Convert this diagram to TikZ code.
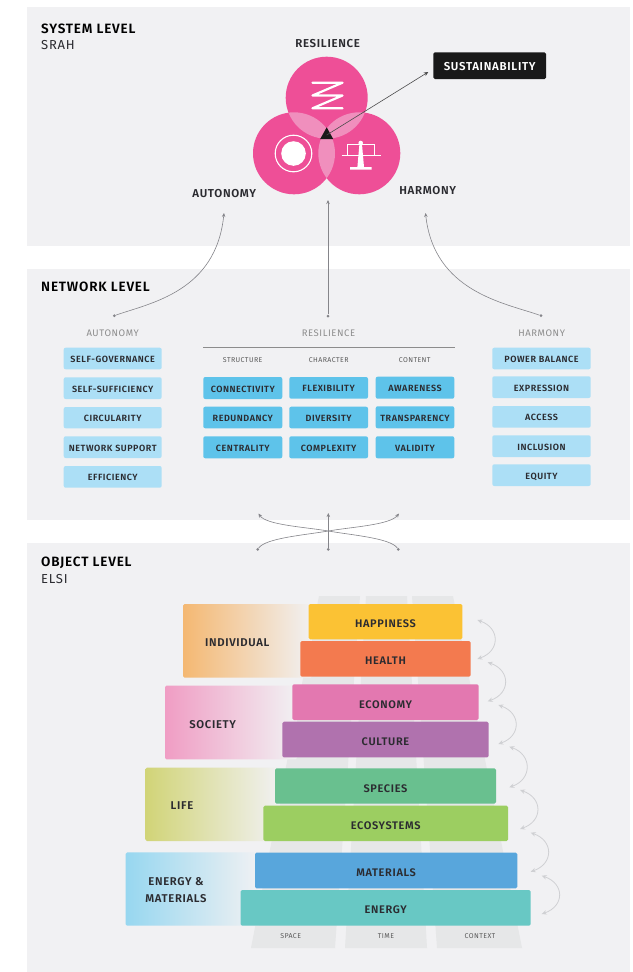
\documentclass[tikz,border=0pt]{standalone}
\usepackage{fontspec}
\setmainfont{Fira Sans}[LetterSpace=6,BoldFont={Fira Sans SemiBold}]
\usetikzlibrary{arrows.meta}
\definecolor{panel}{HTML}{F1F1F3}
\definecolor{ink}{HTML}{2B2B30}
\definecolor{pinkc}{HTML}{EE4F97}
\definecolor{lenspink}{HTML}{F08FBD}
\definecolor{lightb}{HTML}{ACDFF6}
\definecolor{darkb}{HTML}{5EC3EA}
\definecolor{columng}{HTML}{E6E7E8}
\definecolor{wirec}{HTML}{85858A}
\definecolor{loopc}{HTML}{CFD0D3}
\tikzset{
  x=1pt,y=-1pt,
  panelbox/.style={fill=panel,draw=none},
  header/.style={anchor=west,font=\fontsize{13.5}{15}\selectfont\bfseries,text=black,inner sep=0},
  subheader/.style={anchor=west,font=\fontsize{13}{15}\selectfont,text=ink,inner sep=0},
  pillar/.style={font=\fontsize{11.5}{13}\selectfont\bfseries,text=ink,inner sep=0},
  collabel/.style={font=\fontsize{9.5}{11}\selectfont,text=black!45,inner sep=0},
  sublabel/.style={font=\fontsize{7}{8}\selectfont,text=black!65,inner sep=0},
  chip/.style={rectangle,rounded corners=2pt,font=\fontsize{9}{10}\selectfont\bfseries,text=ink,align=center,inner sep=0,text height=8pt,text depth=0pt},
  lightchip/.style={chip,fill=lightb},
  darkchip/.style={chip,fill=darkb},
  layerbox/.style={rectangle,rounded corners=1.5pt,font=\fontsize{11}{12}\selectfont\bfseries,text=ink,inner sep=0,text height=12pt,text depth=0pt},
  grouplabel/.style={font=\fontsize{11.3}{17.4}\selectfont\bfseries,text=ink,align=center,inner sep=0},
  wire/.style={draw=wirec,line width=.6pt,-{Stealth[length=4pt,width=3.5pt]}},
  wiredot/.style={fill=wirec,draw=none,circle,minimum size=3pt,inner sep=0},
  loopar/.style={draw=loopc,line width=.8pt,{Stealth[length=5pt,width=4.5pt]}-{Stealth[length=5pt,width=4.5pt]}},
}
\newcommand{\chipbox}[7]{\pgfmathsetmacro\chipw{#4-#3}\pgfmathsetmacro\chiph{#6-#5}\node[#1,minimum width=\chipw pt,minimum height=\chiph pt] (#2) at ({(#3+#4)/2},{(#5+#6)/2}) {#7};}
\newcommand{\layer}[7]{\definecolor{tmpc}{HTML}{#2}\pgfmathsetmacro\chipw{#4-#3}\pgfmathsetmacro\chiph{#6-#5}\node[layerbox,fill=tmpc,minimum width=\chipw pt,minimum height=\chiph pt] (#1) at ({(#3+#4)/2},{(#5+#6)/2}) {#7};}
\newcommand{\group}[5]{\definecolor{tmpc}{HTML}{#1}\shade[left color=tmpc,right color=panel,rounded corners=1.5pt] (#2,#4) rectangle (#3,#5);}
\newcommand{\looparrow}[4]{\coordinate (#1a) at (#2,#3); \coordinate (#1b) at (#2,#4); \draw[loopar] (#1a) .. controls ({#2+23},{#3-8}) and ({#2+23},{#4+8}) .. (#1b);}
\begin{document}
\begin{tikzpicture}
\useasboundingbox (0,0) rectangle (632,972);
\fill[white] (0,0) rectangle (632,972);
\fill[panelbox] (27,7) rectangle (630,246);
\fill[panelbox] (27,269) rectangle (630,520);
\fill[panelbox] (27,543) rectangle (630,972);
% headers
\node[header] (h1) at (41,29) {SYSTEM LEVEL};
\node[subheader] (h1b) at (41,45) {SRAH};
\node[header] (h2) at (41,287) {NETWORK LEVEL};
\node[header] (h3) at (41,563) {OBJECT LEVEL};
\node[subheader] (h3b) at (41,579) {ELSI};
% venn
\coordinate (ct) at (326.7,97.7);
\coordinate (cl) at (294,153.3);
\coordinate (cr) at (359.3,153.3);
\fill[pinkc] (ct) circle (41) (cl) circle (41) (cr) circle (41);
\begin{scope}\clip (ct) circle (41); \fill[lenspink] (cl) circle (41) (cr) circle (41); \end{scope}
\begin{scope}\clip (cl) circle (41); \fill[lenspink] (cr) circle (41); \end{scope}
% icons
\draw[white,line width=2.2pt,line cap=round,line join=round] (312.5,82.7)--(342.5,82.7)--(312.5,95.5)--(342.5,95.5)--(312.5,108.3)--(342.5,108.3);
\fill[white] (293.5,153.5) circle (12.3);
\draw[white,line width=1.1pt] (293.5,153.5) circle (18.3);
\fill[white] (359.7,141) -- (361.7,141) -- (364,167) -- (371.7,167) -- (371.7,169.5) -- (350,169.5) -- (350,167) -- (357.4,167) -- cycle;
\draw[white,line width=1pt] (341.7,155) -- (380.7,155);
\draw[white,line width=1pt] (347.5,155) -- (347.5,144) -- (374.5,144) -- (374.5,155);
\fill[white] (360.7,143) circle (2.3);
% labels
\node[pillar] (lres) at (327.7,43.7) {RESILIENCE};
\node[pillar] (laut) at (224.3,194) {AUTONOMY};
\node[pillar] (lhar) at (427.7,190.7) {HARMONY};
\node[rectangle,fill=black!90,rounded corners=1.5pt,minimum width=112.7pt,minimum height=26.7pt,font=\fontsize{11.5}{13}\selectfont\bfseries,text=white,inner sep=0,text height=9pt,text depth=0pt] (sus) at (489.7,65.7) {SUSTAINABILITY};
\coordinate (tri) at (326.7,135);
\fill[black!90] (326.7,127.3) -- (333.2,139) -- (320.2,139) -- cycle;
\coordinate (susin) at (428.3,72);
\draw[draw=black!70,line width=.6pt,-{Stealth[length=4.5pt,width=4pt]}] (tri) -- (susin);
% network
\node[collabel] (na) at (112.7,333.7) {AUTONOMY};
\node[collabel] (nr) at (328.5,333.7) {RESILIENCE};
\node[collabel] (nh) at (541.7,333.7) {HARMONY};
\draw[draw=black!45,line width=.6pt] (203.3,347) -- (455,347);
\node[sublabel] (s1) at (242.7,360) {STRUCTURE};
\node[sublabel] (s2) at (328.7,360) {CHARACTER};
\node[sublabel] (s3) at (414.7,360) {CONTENT};
\chipbox{lightchip}{a1}{63.7}{161.7}{347.7}{369.3}{SELF-GOVERNANCE}
\chipbox{lightchip}{a2}{63.7}{161.7}{377.3}{399}{SELF-SUFFICIENCY}
\chipbox{lightchip}{a3}{63.7}{161.7}{407}{428.3}{CIRCULARITY}
\chipbox{lightchip}{a4}{63.7}{161.7}{436.3}{458}{NETWORK SUPPORT}
\chipbox{lightchip}{a5}{63.7}{161.7}{466}{487.7}{EFFICIENCY}
\chipbox{darkchip}{r1}{203.3}{282.3}{377}{399}{CONNECTIVITY}
\chipbox{darkchip}{r2}{203.3}{282.3}{406.7}{428.3}{REDUNDANCY}
\chipbox{darkchip}{r3}{203.3}{282.3}{436.3}{458.3}{CENTRALITY}
\chipbox{darkchip}{r4}{289.3}{368}{377}{398.7}{FLEXIBILITY}
\chipbox{darkchip}{r5}{289.3}{368}{406.7}{428.3}{DIVERSITY}
\chipbox{darkchip}{r6}{289.3}{368}{436.3}{458.3}{COMPLEXITY}
\chipbox{darkchip}{r7}{375.7}{454.3}{376.7}{398.7}{AWARENESS}
\chipbox{darkchip}{r8}{375.7}{454.3}{406.3}{428.3}{TRANSPARENCY}
\chipbox{darkchip}{r9}{375.7}{454.3}{436.3}{458.3}{VALIDITY}
\chipbox{lightchip}{h1x}{492.3}{590.7}{347.7}{369.3}{POWER BALANCE}
\chipbox{lightchip}{h2x}{492.3}{590.7}{376.3}{398}{EXPRESSION}
\chipbox{lightchip}{h3x}{492.3}{590.7}{406}{427.7}{ACCESS}
\chipbox{lightchip}{h4x}{492.3}{590.7}{435.3}{457}{INCLUSION}
\chipbox{lightchip}{h5x}{492.3}{590.7}{464.3}{486}{EQUITY}
% network to system wires
\node[wiredot] (d1) at (114.3,315.7) {};
\node[wiredot] (d2) at (328,316) {};
\node[wiredot] (d3) at (541,315.7) {};
\coordinate (e1) at (224,213);
\coordinate (e2) at (328,200);
\coordinate (e3) at (425.5,213);
\draw[wire] (d1) .. controls (150,303) and (216,292) .. (e1);
\draw[wire] (d2) -- (e2);
\draw[wire] (d3) .. controls (505,303) and (434,292) .. (e3);
% cross
\node[wiredot] (c1) at (257.7,549.3) {};
\node[wiredot] (c2) at (328.3,549.3) {};
\node[wiredot] (c3) at (398.3,549.3) {};
\coordinate (t1) at (258.5,513.5);
\coordinate (t2) at (328.3,513);
\coordinate (t3) at (399,513.5);
\coordinate (xm) at (328.3,531);
\draw[wire] (c2) -- (t2);
\draw[wire] (c1) .. controls (266,538) and (305,535) .. (xm) .. controls (351,527) and (390,525) .. (t3);
\draw[wire] (c3) .. controls (390,538) and (351,535) .. (xm) .. controls (305,527) and (266,525) .. (t1);
% object: columns
\fill[columng] (319,596) -- (360,596) -- (335,948) -- (251,948) -- cycle;
\fill[columng] (366,596) -- (407,596) -- (427,948) -- (345,948) -- cycle;
\fill[columng] (412,596) -- (453,596) -- (522,948) -- (437,948) -- cycle;
\node[sublabel] (cs) at (290.7,936.3) {SPACE};
\node[sublabel] (ct2) at (386,936.3) {TIME};
\node[sublabel] (cc) at (480,936.3) {CONTEXT};
% groups
\group{F4B872}{183}{312}{604}{677.7}
\group{F09DC4}{165}{297}{685.7}{759.3}
\group{D1D477}{145.3}{280}{767.7}{841}
\group{97D7F0}{125.7}{260}{852.3}{925.7}
\node[grouplabel] (gi) at (237.3,642.7) {INDIVIDUAL};
\node[grouplabel] (gs) at (212.7,725) {SOCIETY};
\node[grouplabel] (gl) at (182,806) {LIFE};
\node[grouplabel] (ge) at (176,890) {ENERGY \&\\MATERIALS};
\layer{l1}{FBC234}{308.7}{462.3}{604}{639.3}{HAPPINESS}
\layer{l2}{F37A4F}{300.3}{470.7}{641}{676.7}{HEALTH}
\layer{l3}{E378B0}{292.3}{478.7}{684.3}{720}{ECONOMY}
\layer{l4}{B072AE}{282.3}{488.7}{721.7}{757.3}{CULTURE}
\layer{l5}{69C08F}{275}{496}{768.3}{803.7}{SPECIES}
\layer{l6}{9CCE61}{263.3}{508}{805.7}{841}{ECOSYSTEMS}
\layer{l7}{58A6DC}{255}{517.3}{852.7}{888.3}{MATERIALS}
\layer{l8}{68C8C4}{240.7}{530.7}{890}{925.7}{ENERGY}
% loop arrows
\looparrow{p1}{477.3}{659}{620}
\looparrow{p2}{487.7}{701.3}{662.3}
\looparrow{p3}{498.3}{744}{705}
\looparrow{p4}{509.3}{787.3}{746.7}
\looparrow{p5}{520}{829}{790}
\looparrow{p6}{530.7}{871.7}{832.7}
\looparrow{p7}{541.7}{914}{875.7}
\end{tikzpicture}
\end{document}
